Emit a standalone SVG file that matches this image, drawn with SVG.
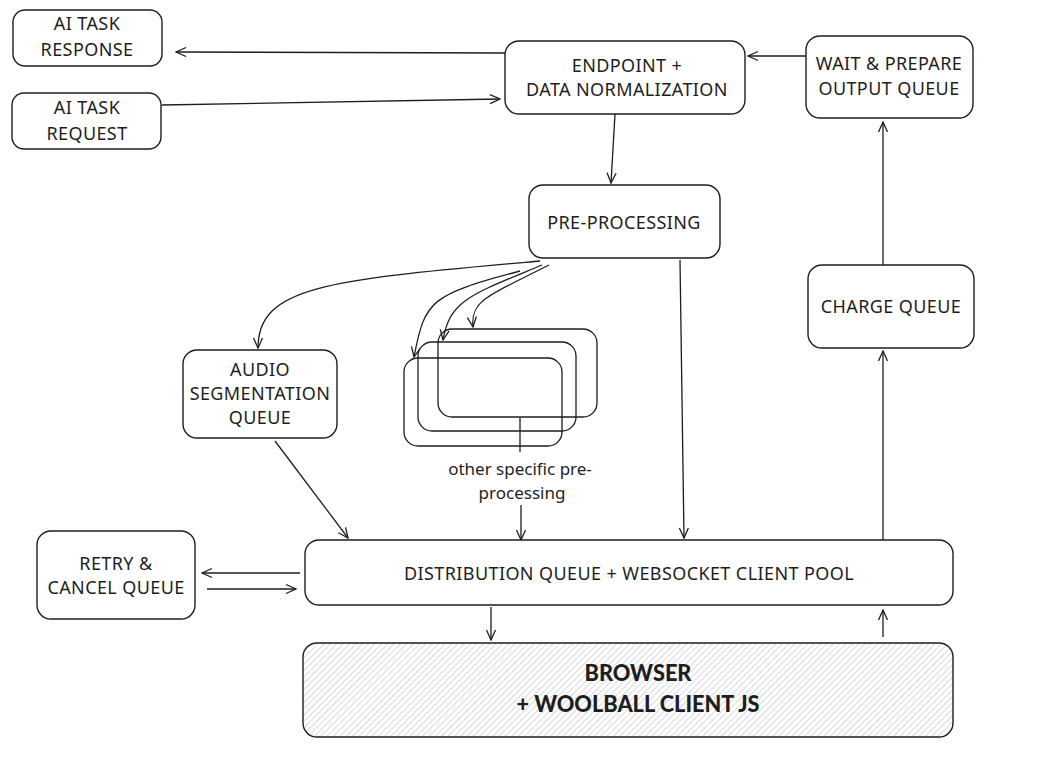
<svg xmlns="http://www.w3.org/2000/svg" width="1059" height="760" viewBox="0 0 1059 760">
<style>
.n{fill:#ffffff;stroke:#1e1e1e;stroke-width:1.4}
.s{fill:none;stroke:#1e1e1e;stroke-width:1.3}
.t{font-family:"Noto Sans","Liberation Sans",sans-serif;font-size:18px;font-weight:400;letter-spacing:0.4px;fill:#1e1e1e;text-anchor:middle}
.lbl{font-family:"Noto Sans","Liberation Sans",sans-serif;font-size:17px;font-weight:400;fill:#1e1e1e;text-anchor:middle}
.b{font-family:Lato,"DejaVu Sans",sans-serif;font-weight:900;font-size:22px;fill:#1e1e1e;text-anchor:middle}
.c{fill:none;stroke:#1e1e1e;stroke-width:1.3;marker-end:url(#ah)}
</style>
<defs>
<marker id="ah" viewBox="0 0 12 12" refX="11" refY="6" markerWidth="12" markerHeight="12" markerUnits="userSpaceOnUse" orient="auto">
<path d="M1,1.5 L11,6 L1,10.5" fill="none" stroke="#1e1e1e" stroke-width="1.3"/>
</marker>
<pattern id="hatch" width="4.5" height="4.5" patternUnits="userSpaceOnUse" patternTransform="rotate(45)">
<line x1="0" y1="0" x2="0" y2="4.5" stroke="#b9bdc4" stroke-width="1.1"/>
</pattern>
</defs>
<rect width="1059" height="760" fill="#ffffff"/>

<g id="connectors">
<path class="c" d="M505,53 L176,52"/>
<path class="c" d="M162,105 L500,99"/>
<path class="c" d="M806,56 L748,56"/>
<path class="c" d="M615,114 L611,183"/>
<path class="c" d="M680,260 L684,538"/>
<path class="c" d="M540,261 C330,280 258,285 258,348"/>
<path class="c" d="M520,271 C430,295 425,300 414,357"/>
<path class="c" d="M542,265 C470,295 450,300 443,340"/>
<path class="c" d="M549,265 C490,295 470,300 473,327"/>
<path class="s" d="M520,418 L520,452"/>
<path class="c" d="M521,505 L521,540"/>
<path class="c" d="M275,441 L348,538"/>
<path class="c" d="M300,573 L202,573"/>
<path class="c" d="M207,589 L296,589"/>
<path class="c" d="M491,607 L491,640"/>
<path class="c" d="M883,637 L883,610"/>
<path class="c" d="M883,540 L883,351"/>
<path class="c" d="M883,265 L883,122"/>
</g>

<g id="ai-task-response">
<rect class="n" x="13" y="10" width="149" height="56" rx="12"/>
<text class="t" x="87" y="30">AI TASK</text>
<text class="t" x="87" y="56">RESPONSE</text>
</g>
<g id="ai-task-request">
<rect class="n" x="12" y="93" width="149" height="56" rx="12"/>
<text class="t" x="87" y="114">AI TASK</text>
<text class="t" x="87" y="140">REQUEST</text>
</g>
<g id="endpoint">
<rect class="n" x="505" y="41" width="240" height="73" rx="14"/>
<text class="t" x="627" y="72">ENDPOINT +</text>
<text class="t" x="627" y="96">DATA NORMALIZATION</text>
</g>
<g id="wait-prepare">
<rect class="n" x="806" y="36" width="167" height="82" rx="14"/>
<text class="t" x="889" y="70">WAIT &amp; PREPARE</text>
<text class="t" x="889" y="95">OUTPUT QUEUE</text>
</g>
<g id="pre-processing">
<rect class="n" x="529" y="185" width="191" height="73" rx="14"/>
<text class="t" x="624" y="229">PRE-PROCESSING</text>
</g>
<g id="charge-queue">
<rect class="n" x="808" y="265" width="166" height="83" rx="14"/>
<text class="t" x="891" y="313">CHARGE QUEUE</text>
</g>
<g id="audio-segmentation">
<rect class="n" x="183" y="350" width="154" height="88" rx="14"/>
<text class="t" x="260" y="376">AUDIO</text>
<text class="t" x="260" y="400">SEGMENTATION</text>
<text class="t" x="260" y="424">QUEUE</text>
</g>
<g id="other-preprocessing">
<rect class="s" x="438" y="329" width="159" height="88" rx="14"/>
<rect class="s" x="418" y="342" width="158" height="89" rx="14"/>
<rect class="s" x="404" y="358" width="158" height="88" rx="14"/>
<text class="lbl" x="520" y="475">other specific pre-</text>
<text class="lbl" x="522" y="499">processing</text>
</g>
<g id="distribution">
<rect class="n" x="305" y="540" width="648" height="65" rx="14"/>
<text class="t" x="629" y="580">DISTRIBUTION QUEUE + WEBSOCKET CLIENT POOL</text>
</g>
<g id="retry-cancel">
<rect class="n" x="37" y="531" width="158" height="88" rx="14"/>
<text class="t" x="116" y="570">RETRY &amp;</text>
<text class="t" x="116" y="594">CANCEL QUEUE</text>
</g>
<g id="browser">
<rect x="303" y="643" width="650" height="94" rx="14" fill="url(#hatch)" stroke="#1e1e1e" stroke-width="1.4"/>
<text class="b" x="638" y="681" textLength="107" lengthAdjust="spacingAndGlyphs">BROWSER</text>
<text class="b" x="638" y="712" textLength="243" lengthAdjust="spacingAndGlyphs">+ WOOLBALL CLIENT JS</text>
</g>
</svg>
